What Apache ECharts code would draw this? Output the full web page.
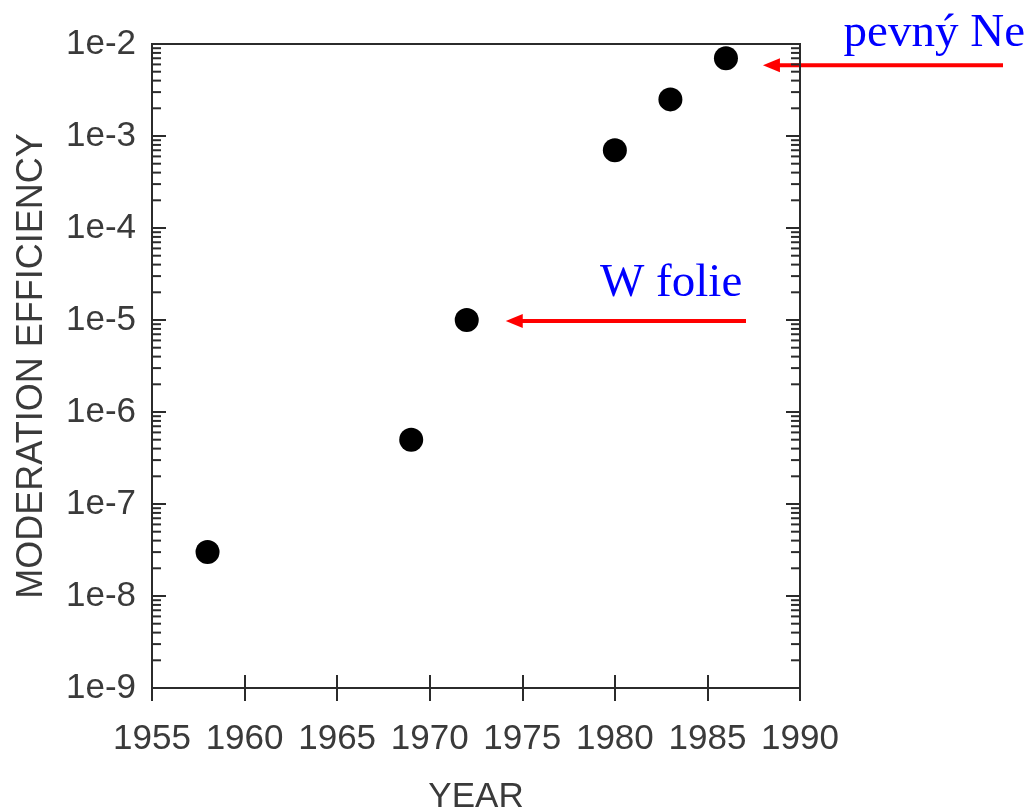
<!DOCTYPE html>
<html lang="en">
<head>
    <meta charset="UTF-8">
    <script src="https://cdn.jsdelivr.net/npm/echarts@6/dist/echarts.min.js"></script>
    <style>
        html, body { margin: 0; padding: 0; background: #fff; }
        #chart { width: 1034px; height: 812px; }
    </style>
</head>
<body>
<div id="chart"></div>
<script type="text/javascript">

    // measured points (year, moderation efficiency)
    var years = [1958, 1969, 1972, 1980, 1983, 1986];
    var efficiency = [3e-8, 5e-7, 1e-5, 7e-4, 2.5e-3, 7e-3];

    var xMin = 1955, xMax = 1990;
    var yMin = 1e-9, yMax = 1e-2;

    // log minor ticks 2..9 for each decade
    var minorTicks = [];
    for (var e = -9; e < -2; e++) {
        for (var m = 2; m <= 9; m++) {
            minorTicks.push([xMin, m * Math.pow(10, e)]);
        }
    }

    var axisColor = '#2b2b2b';
    var textColor = '#3a3a3a';
    var font = '"Liberation Sans", Arial, sans-serif';

    var chart = echarts.init(document.getElementById('chart'));

    var option = {
        animation: false,
        grid: {
            left: 152, right: 234, top: 44, bottom: 124,
            outerBoundsMode: 'none',
            containLabel: false,
            show: true, borderColor: axisColor, borderWidth: 2,
            backgroundColor: 'transparent'
        },
        xAxis: [
            {
                type: 'value', min: xMin, max: xMax, interval: 5,
                name: 'YEAR', nameLocation: 'middle', nameGap: 92,
                nameTextStyle: { color: textColor, fontSize: 35, fontFamily: font },
                axisLine: { show: true, lineStyle: { color: axisColor, width: 2 } },
                axisTick: { show: true, inside: false, length: 13, lineStyle: { color: axisColor, width: 2 } },
                axisLabel: {
                    color: textColor, fontSize: 35, fontFamily: font, margin: 34,
                    formatter: function (v) { return String(v); }
                },
                splitLine: { show: false }
            },
            {
                type: 'value', min: xMin, max: xMax, interval: 5, position: 'bottom',
                axisLine: { show: false },
                axisTick: { show: true, inside: true, length: 13, lineStyle: { color: axisColor, width: 2 } },
                axisLabel: { show: false },
                splitLine: { show: false }
            }
        ],
        yAxis: [
            {
                type: 'log', logBase: 10, min: yMin, max: yMax, interval: 1,
                name: 'MODERATION EFFICIENCY', nameLocation: 'middle', nameGap: 102,
                nameTextStyle: { color: textColor, fontSize: 36, fontFamily: font },
                axisLine: { show: true, lineStyle: { color: axisColor, width: 2 } },
                axisTick: { show: true, inside: true, length: 14, lineStyle: { color: axisColor, width: 2 } },
                axisLabel: {
                    color: textColor, fontSize: 35, fontFamily: font, margin: 16,
                    formatter: function (v) { return '1e' + Math.round(Math.log10(v)); }
                },
                splitLine: { show: false }
            },
            {
                type: 'log', logBase: 10, min: yMin, max: yMax, interval: 1, position: 'right',
                axisLine: { show: true, lineStyle: { color: axisColor, width: 2 } },
                axisTick: { show: true, inside: true, length: 14, lineStyle: { color: axisColor, width: 2 } },
                axisLabel: { show: false },
                splitLine: { show: false }
            }
        ],
        series: [
            {
                type: 'scatter',
                symbol: 'circle',
                symbolSize: 24,
                itemStyle: { color: '#000', opacity: 1 },
                data: years.map(function (y, i) { return [y, efficiency[i]]; })
            },
            {
                type: 'custom',
                silent: true,
                clip: false,
                data: minorTicks,
                renderItem: function (params, api) {
                    var v = api.value(1);
                    var l = api.coord([xMin, v]);
                    var r = api.coord([xMax, v]);
                    var st = { stroke: axisColor, lineWidth: 2 };
                    return {
                        type: 'group',
                        children: [
                            { type: 'line', shape: { x1: l[0], y1: l[1], x2: l[0] + 9, y2: l[1] }, style: st },
                            { type: 'line', shape: { x1: r[0], y1: r[1], x2: r[0] - 9, y2: r[1] }, style: st }
                        ]
                    };
                }
            }
        ]
    };

    chart.setOption(option);

    // annotations: arrows pointing at two of the points
    function arrow(x1, x2, y) {
        return [
            { type: 'line', shape: { x1: x1, y1: y, x2: x2 + 14, y2: y },
              style: { stroke: '#ff0000', lineWidth: 4 } },
            { type: 'polygon', shape: { points: [[x2, y], [x2 + 17, y - 7], [x2 + 17, y + 7]] },
              style: { fill: '#ff0000' } }
        ];
    }
    var pNe = chart.convertToPixel({ seriesIndex: 0 }, [years[5], efficiency[5]]);
    var pW = chart.convertToPixel({ seriesIndex: 0 }, [years[2], efficiency[2]]);
    var serif = '"Liberation Serif", "Times New Roman", serif';

    chart.setOption({
        graphic: [].concat(
            arrow(1003, pNe[0] + 37, pNe[1] + 7),
            arrow(746, pW[0] + 39, pW[1] + 1),
            [
                { type: 'text', right: 9, top: 10,
                  style: { text: 'pevný Ne', fill: '#0000ff', font: '47px ' + serif } },
                { type: 'text', left: 600, top: 260,
                  style: { text: 'W folie', fill: '#0000ff', font: '47px ' + serif } }
            ]
        )
    });

</script>
</body>
</html>
